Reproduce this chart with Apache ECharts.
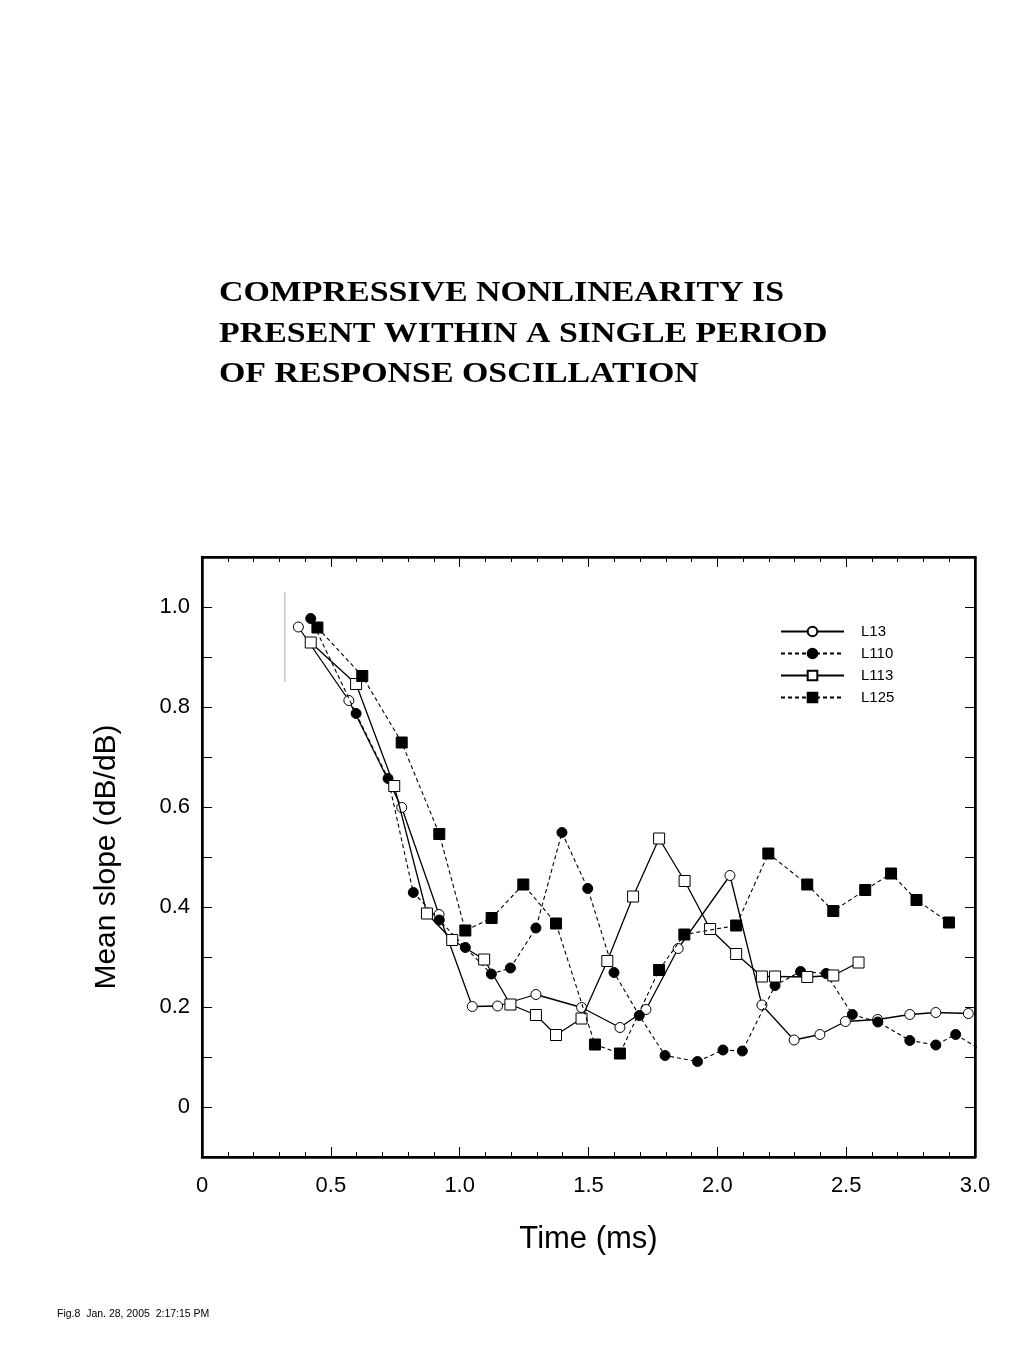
<!DOCTYPE html>
<html>
<head>
<meta charset="utf-8">
<script src="https://cdn.jsdelivr.net/npm/echarts@6/dist/echarts.min.js"></script>
<style>html,body{margin:0;padding:0;background:#fff;}#c{width:1024px;height:1365px;}</style>
</head>
<body>
<div id="c"></div>
<script>
var titleText = 'COMPRESSIVE NONLINEARITY IS\nPRESENT WITHIN A SINGLE PERIOD\nOF RESPONSE OSCILLATION';
var footText = 'Fig.8  Jan. 28, 2005  2:17:15 PM';
var xName = 'Time (ms)';
var yName = 'Mean slope (dB/dB)';
var seriesNames = ['L13', 'L110', 'L113', 'L125'];

var L13 = [[0.374,0.960],[0.570,0.813],[0.775,0.599],[0.920,0.385],[1.049,0.201],[1.147,0.202],[1.296,0.225],[1.473,0.199],[1.622,0.159],[1.723,0.195],[1.848,0.317],[2.049,0.463],[2.173,0.204],[2.298,0.134],[2.398,0.145],[2.497,0.171],[2.622,0.175],[2.747,0.185],[2.848,0.189],[2.974,0.187]];
var L110 = [[0.422,0.977],[0.598,0.787],[0.722,0.657],[0.820,0.429],[0.921,0.374],[1.022,0.319],[1.123,0.266],[1.197,0.278],[1.296,0.358],[1.397,0.549],[1.497,0.437],[1.599,0.269],[1.697,0.183],[1.797,0.103],[1.923,0.091],[2.022,0.114],[2.097,0.112],[2.224,0.243],[2.323,0.271],[2.422,0.267],[2.524,0.185],[2.623,0.170],[2.747,0.133],[2.848,0.124],[2.925,0.145],[3.030,0.112]];
var L113 = [[0.422,0.929],[0.598,0.846],[0.746,0.642],[0.873,0.387],[0.971,0.334],[1.095,0.295],[1.197,0.205],[1.296,0.184],[1.374,0.144],[1.473,0.177],[1.573,0.292],[1.673,0.421],[1.774,0.537],[1.873,0.452],[1.972,0.356],[2.073,0.306],[2.173,0.261],[2.224,0.261],[2.349,0.260],[2.450,0.263],[2.548,0.289]];
var L125 = [[0.448,0.959],[0.622,0.862],[0.775,0.729],[0.921,0.546],[1.022,0.353],[1.124,0.378],[1.247,0.445],[1.374,0.367],[1.525,0.125],[1.622,0.107],[1.774,0.274],[1.872,0.345],[2.073,0.363],[2.198,0.507],[2.349,0.445],[2.450,0.392],[2.574,0.434],[2.674,0.467],[2.773,0.414],[2.899,0.369]];
var grayMark = [[0.322,1.03],[0.322,0.85]];

var chart = echarts.init(document.getElementById('c'), null, {renderer:'canvas'});

function yFmt(v){
  var k = Math.round(v*10);
  if (k < 0 || k > 10 || k % 2 !== 0) return '';
  if (k === 0) return '0';
  return (k/10).toFixed(1);
}
function xFmt(v){
  var k = Math.round(v*10);
  if (k === 0) return '0';
  return (k/10).toFixed(1);
}

var solid = {color:'#000', width:1.3, type:'solid'};
var dashed = {color:'#000', width:1.1, type:[4,3]};

var xCommon = {
  type:'value', min:0, max:3, interval:0.5,
  axisLine:{show:true, onZero:false, lineStyle:{color:'#000', width:2.5}},
  axisTick:{show:true, inside:true, length:10, lineStyle:{color:'#000', width:1}},
  minorTick:{show:true, splitNumber:5, length:5, lineStyle:{color:'#000', width:1}},
  splitLine:{show:false}
};
var yCommon = {
  type:'value', min:-0.1, max:1.1, interval:0.1,
  axisLine:{show:true, onZero:false, lineStyle:{color:'#000', width:2.5}},
  axisTick:{show:true, inside:true, length:10, lineStyle:{color:'#000', width:1}},
  splitLine:{show:false}
};

chart.setOption({
  backgroundColor:'#fff',
  animation:false,
  title:[
    {text:footText, left:52, top:1304,
     textStyle:{fontFamily:'Liberation Sans', fontWeight:'normal', fontSize:10.5, color:'#000'}}
  ],
  graphic:[
    {type:'text', x:219, y:273, scaleX:1.13, scaleY:1,
     style:{text:titleText, font:'bold 30px "Liberation Serif"', lineHeight:40.5, fill:'#000', textAlign:'left', textVerticalAlign:'top'}}
  ],
  grid:{left:202, right:49, top:557, bottom:208, show:true, borderColor:'#000', borderWidth:2, backgroundColor:'transparent'},
  legend:{
    data:seriesNames, orient:'vertical', left:775, top:619,
    itemWidth:63, itemHeight:12, itemGap:7,
    textStyle:{fontFamily:'Liberation Sans', fontSize:15, color:'#000', padding:[0,0,0,12], lineHeight:12}
  },
  xAxis:[
    Object.assign({}, xCommon, {position:'bottom',
      name:xName, nameLocation:'middle', nameGap:67,
      nameTextStyle:{fontFamily:'Liberation Sans', fontSize:31, color:'#000'},
      axisLabel:{show:true, color:'#000', fontFamily:'Liberation Sans', fontSize:22, margin:18, formatter:xFmt}}),
    Object.assign({}, xCommon, {position:'top', axisLabel:{show:false}})
  ],
  yAxis:[
    Object.assign({}, yCommon, {position:'left',
      name:yName, nameLocation:'middle', nameGap:80, nameRotate:90,
      nameTextStyle:{fontFamily:'Liberation Sans', fontSize:30, color:'#000'},
      axisLabel:{show:true, color:'#000', fontFamily:'Liberation Sans', fontSize:22, margin:12, formatter:yFmt}}),
    Object.assign({}, yCommon, {position:'right', axisLabel:{show:false}})
  ],
  series:[
    {name:'L13', type:'line', data:L13, clip:true, symbol:'circle', symbolSize:10,
     lineStyle:solid, itemStyle:{color:'#fff', borderColor:'#000', borderWidth:1}, z:3},
    {name:'L110', type:'line', data:L110, clip:true, symbol:'circle', symbolSize:10,
     lineStyle:dashed, itemStyle:{color:'#000', borderColor:'#000', borderWidth:1}, z:4},
    {name:'L113', type:'line', data:L113, clip:true, symbol:'rect', symbolSize:11,
     lineStyle:solid, itemStyle:{color:'#fff', borderColor:'#000', borderWidth:1}, z:5},
    {name:'L125', type:'line', data:L125, clip:true, symbol:'rect', symbolSize:11,
     lineStyle:dashed, itemStyle:{color:'#000', borderColor:'#000', borderWidth:1}, z:6},
    {name:'mark', type:'line', data:grayMark, symbol:'none', silent:true,
     lineStyle:{color:'#aaa', width:1}, z:2}
  ]
});
</script>
</body>
</html>
